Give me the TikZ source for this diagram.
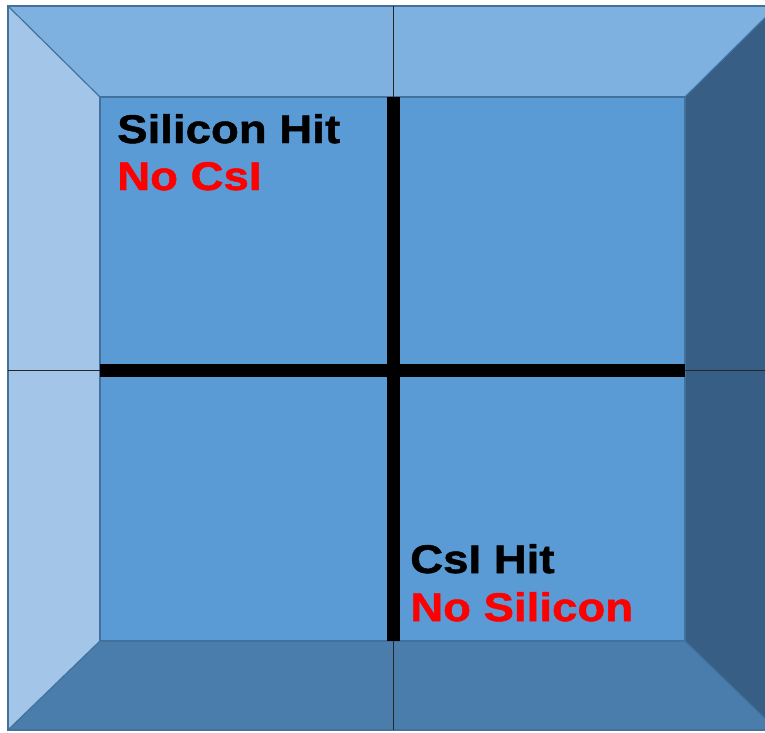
\documentclass[tikz,border=0pt]{standalone}
\usepackage{fontspec}
\newfontfamily\lblfont[FakeStretch=1.14,FakeBold=1.2]{Liberation Sans Bold}
\definecolor{faceblue}{HTML}{5B9BD5}
\definecolor{topblue}{HTML}{7EB1DF}
\definecolor{leftblue}{HTML}{A3C5E7}
\definecolor{botblue}{HTML}{4A7DAC}
\definecolor{rightblue}{HTML}{375E84}
\definecolor{edgeblue}{HTML}{41719C}
\definecolor{lblred}{HTML}{FF0000}

\begin{document}
\begin{tikzpicture}[
  x=1pt, y=-1pt,
  bevel/.style={draw=edgeblue, line width=1.2pt, line join=miter},
  seam/.style={draw=black!85, line width=0.9pt},
  divider/.style={draw=black, line width=13pt},
  lbl/.style={anchor=base west, inner sep=0pt, font=\lblfont\fontsize{40}{47}\selectfont},
]
\useasboundingbox (0,0) rectangle (765,732);
\clip (0,0) rectangle (765,732);

% ---- corners of the bevelled box ----
\coordinate (OTL) at (8,6);   \coordinate (OTR) at (777,6);
\coordinate (OBL) at (8,730); \coordinate (OBR) at (777,730);
\coordinate (ITL) at (100,97);  \coordinate (ITR) at (685,97);
\coordinate (IBL) at (100,641); \coordinate (IBR) at (685,641);

% ======================= bevel faces =======================
\fill[topblue]   (OTL) -- (OTR) -- (ITR) -- (ITL) -- cycle;
\fill[leftblue]  (OTL) -- (ITL) -- (IBL) -- (OBL) -- cycle;
\fill[botblue]   (OBL) -- (IBL) -- (IBR) -- (OBR) -- cycle;
\fill[rightblue] (OTR) -- (OBR) -- (IBR) -- (ITR) -- cycle;
\fill[faceblue]  (ITL) rectangle (IBR);

% ---- face edges ----
\draw[bevel] (OTL) rectangle (OBR);
\draw[bevel] (ITL) rectangle (IBR);
\draw[bevel] (OTL) -- (ITL) (OTR) -- (ITR) (OBL) -- (IBL) (OBR) -- (IBR);

% ======================= quadrant lines =======================
\coordinate (ctr) at (393,370);
\draw[seam] (ctr |- OTL) -- (ctr |- OBL);
\draw[seam] (ctr -| OTL) -- (ctr -| OTR);
\draw[divider] (ctr |- ITL) -- (ctr |- IBL);
\draw[divider] (ctr -| ITL) -- (ctr -| ITR);

% ======================= labels =======================
\node[lbl] (siHit) at (117,143) {Silicon Hit};
\node[lbl, text=lblred] (noCsI) at (117,190) {No CsI};
\node[lbl] (csiHit) at (410,573) {CsI Hit};
\node[lbl, text=lblred] (noSi) at (410,621) {No Silicon};
\end{tikzpicture}
\end{document}
